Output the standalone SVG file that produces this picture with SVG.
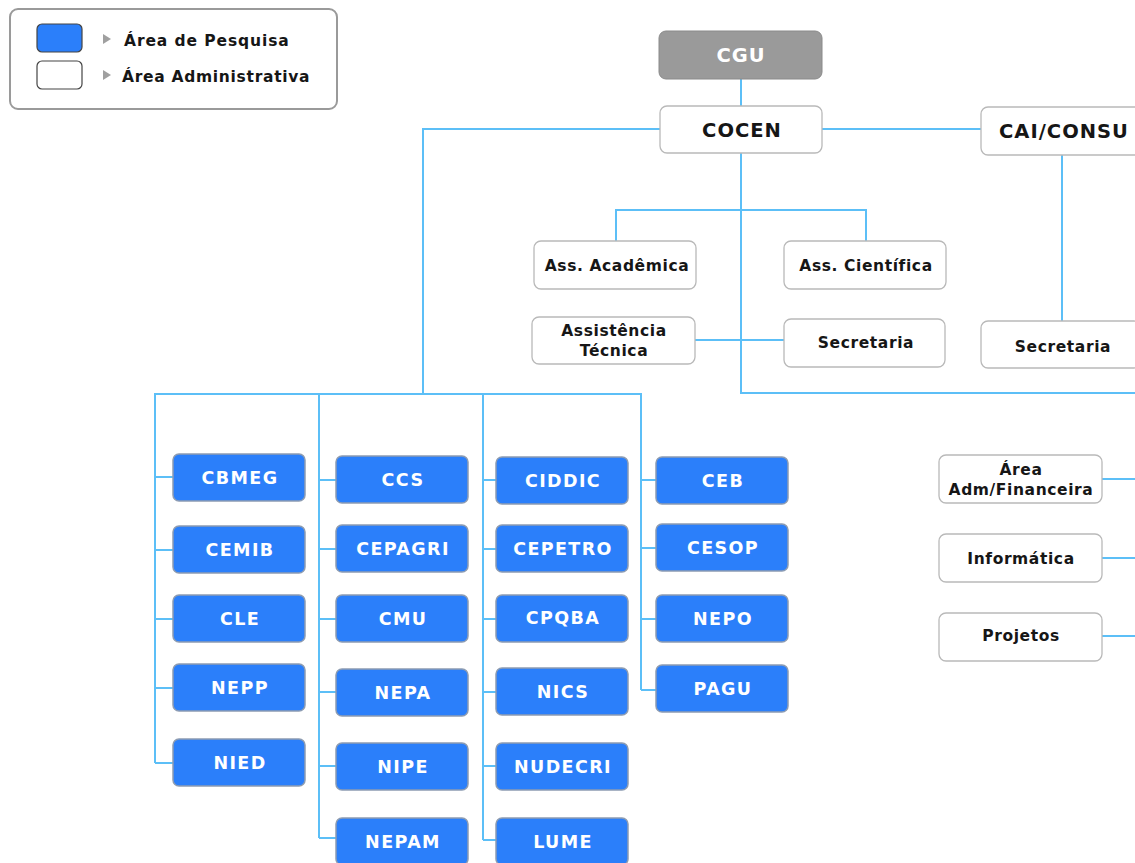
<svg xmlns="http://www.w3.org/2000/svg" width="1135" height="863" viewBox="0 0 1135 863">
<style>
.c{fill:none;stroke:#5cbff7;stroke-width:2}
.w{fill:#fff;stroke:#b9b9b9;stroke-width:1.3}
.b{fill:#2b7ffa;stroke:#8d9cb2;stroke-width:1.5}
.t{font-family:"DejaVu Sans",Verdana,sans-serif;font-weight:bold;text-anchor:middle}
.tw{fill:#fff;font-size:17.5px;letter-spacing:1.4px}
.tk{fill:#161616;font-size:15.5px;letter-spacing:0.6px}
.tl{fill:#161616;font-size:19.5px;letter-spacing:1px}
</style>
<rect width="1135" height="863" fill="#fff"/>
<g id="legend">
<rect x="10" y="9" width="327" height="100" rx="8" fill="#fff" stroke="#9a9a9a" stroke-width="2"/>
<rect x="37" y="24" width="45" height="28" rx="5" fill="#2b7ffa" stroke="#444" stroke-width="1.2"/>
<rect x="37" y="61" width="45" height="28" rx="5" fill="#fff" stroke="#444" stroke-width="1.2"/>
<polygon points="103,34 111,39 103,44" fill="#a0a0a0"/>
<polygon points="103,70 111,75 103,80" fill="#a0a0a0"/>
<text x="124" y="46" font-family="DejaVu Sans,Verdana,sans-serif" font-weight="bold" font-size="15.5" letter-spacing="0.9" fill="#161616">Área de Pesquisa</text>
<text x="122" y="82" font-family="DejaVu Sans,Verdana,sans-serif" font-weight="bold" font-size="15.5" letter-spacing="0.7" fill="#161616">Área Administrativa</text>
</g>
<g id="connectors">
<path class="c" d="M741,79V106"/>
<path class="c" d="M822,129H981"/>
<path class="c" d="M660,129H423V394"/>
<path class="c" d="M741,153V393H1135"/>
<path class="c" d="M616,241V210H866V241"/>
<path class="c" d="M695,340H784"/>
<path class="c" d="M1062,155V321"/>
<path class="c" d="M155,763V394H641V690"/>
<path class="c" d="M319,394V838"/>
<path class="c" d="M483,394V840"/>
<path class="c" d="M155,477H173M155,550H173M155,619H173M155,688H173M155,763H173"/>
<path class="c" d="M319,480H336M319,549H336M319,619H336M319,692H336M319,766H336M319,838H336"/>
<path class="c" d="M483,480H496M483,549H496M483,619H496M483,692H496M483,766H496M483,840H496"/>
<path class="c" d="M641,480H656M641,548H656M641,619H656M641,690H656"/>
<path class="c" d="M1102,479H1135M1102,558H1135M1102,636H1135"/>
</g>
<g id="cgu"><rect x="659" y="31" width="163" height="48" rx="7" fill="#9a9a9a" stroke="#8a8a8a"/><text class="t" x="741" y="62" font-size="19.5" letter-spacing="1" fill="#fff">CGU</text></g>
<g id="cocen"><rect class="w" x="660" y="106" width="162" height="47" rx="7"/><text class="t tl" x="742" y="137">COCEN</text></g>
<g id="caiconsu"><rect class="w" x="981" y="107" width="162" height="48" rx="7"/><text class="t tl" x="1064" y="138">CAI/CONSU</text></g>
<g id="ass-academica"><rect class="w" x="534" y="241" width="162" height="48" rx="7"/><text class="t tk" x="617" y="271">Ass. Acadêmica</text></g>
<g id="ass-cientifica"><rect class="w" x="784" y="241" width="162" height="48" rx="7"/><text class="t tk" x="866" y="271">Ass. Científica</text></g>
<g id="assist-tecnica"><rect class="w" x="532" y="317" width="163" height="47" rx="7"/><text class="t tk" x="614" y="336">Assistência</text><text class="t tk" x="614" y="356">Técnica</text></g>
<g id="secretaria1"><rect class="w" x="784" y="319" width="161" height="48" rx="7"/><text class="t tk" x="866" y="348">Secretaria</text></g>
<g id="secretaria2"><rect class="w" x="981" y="321" width="160" height="47" rx="7"/><text class="t tk" x="1063" y="352">Secretaria</text></g>
<g id="adm-fin"><rect class="w" x="939" y="455" width="163" height="48" rx="7"/><text class="t tk" x="1021" y="475">Área</text><text class="t tk" x="1021" y="495">Adm/Financeira</text></g>
<g id="informatica"><rect class="w" x="939" y="534" width="163" height="48" rx="7"/><text class="t tk" x="1021" y="564">Informática</text></g>
<g id="projetos"><rect class="w" x="939" y="613" width="163" height="48" rx="7"/><text class="t tk" x="1021" y="641">Projetos</text></g>
<g id="cbmeg"><rect class="b" x="173" y="454" width="132" height="47" rx="6"/><text class="t tw" x="240" y="484">CBMEG</text></g>
<g id="cemib"><rect class="b" x="173" y="526" width="132" height="47" rx="6"/><text class="t tw" x="240" y="556">CEMIB</text></g>
<g id="cle"><rect class="b" x="173" y="595" width="132" height="47" rx="6"/><text class="t tw" x="240" y="625">CLE</text></g>
<g id="nepp"><rect class="b" x="173" y="664" width="132" height="47" rx="6"/><text class="t tw" x="240" y="694">NEPP</text></g>
<g id="nied"><rect class="b" x="173" y="739" width="132" height="47" rx="6"/><text class="t tw" x="240" y="769">NIED</text></g>
<g id="ccs"><rect class="b" x="336" y="456" width="132" height="47" rx="6"/><text class="t tw" x="403" y="486">CCS</text></g>
<g id="cepagri"><rect class="b" x="336" y="525" width="132" height="47" rx="6"/><text class="t tw" x="403" y="555">CEPAGRI</text></g>
<g id="cmu"><rect class="b" x="336" y="595" width="132" height="47" rx="6"/><text class="t tw" x="403" y="625">CMU</text></g>
<g id="nepa"><rect class="b" x="336" y="669" width="132" height="47" rx="6"/><text class="t tw" x="403" y="699">NEPA</text></g>
<g id="nipe"><rect class="b" x="336" y="743" width="132" height="47" rx="6"/><text class="t tw" x="403" y="773">NIPE</text></g>
<g id="nepam"><rect class="b" x="336" y="818" width="132" height="47" rx="6"/><text class="t tw" x="403" y="848">NEPAM</text></g>
<g id="ciddic"><rect class="b" x="496" y="457" width="132" height="47" rx="6"/><text class="t tw" x="563" y="487">CIDDIC</text></g>
<g id="cepetro"><rect class="b" x="496" y="525" width="132" height="47" rx="6"/><text class="t tw" x="563" y="555">CEPETRO</text></g>
<g id="cpqba"><rect class="b" x="496" y="595" width="132" height="47" rx="6"/><text class="t tw" x="563" y="624">CPQBA</text></g>
<g id="nics"><rect class="b" x="496" y="668" width="132" height="47" rx="6"/><text class="t tw" x="563" y="698">NICS</text></g>
<g id="nudecri"><rect class="b" x="496" y="743" width="132" height="47" rx="6"/><text class="t tw" x="563" y="773">NUDECRI</text></g>
<g id="lume"><rect class="b" x="496" y="818" width="132" height="47" rx="6"/><text class="t tw" x="563" y="848">LUME</text></g>
<g id="ceb"><rect class="b" x="656" y="457" width="132" height="47" rx="6"/><text class="t tw" x="723" y="487">CEB</text></g>
<g id="cesop"><rect class="b" x="656" y="524" width="132" height="47" rx="6"/><text class="t tw" x="723" y="554">CESOP</text></g>
<g id="nepo"><rect class="b" x="656" y="595" width="132" height="47" rx="6"/><text class="t tw" x="723" y="625">NEPO</text></g>
<g id="pagu"><rect class="b" x="656" y="665" width="132" height="47" rx="6"/><text class="t tw" x="723" y="695">PAGU</text></g>
</svg>
